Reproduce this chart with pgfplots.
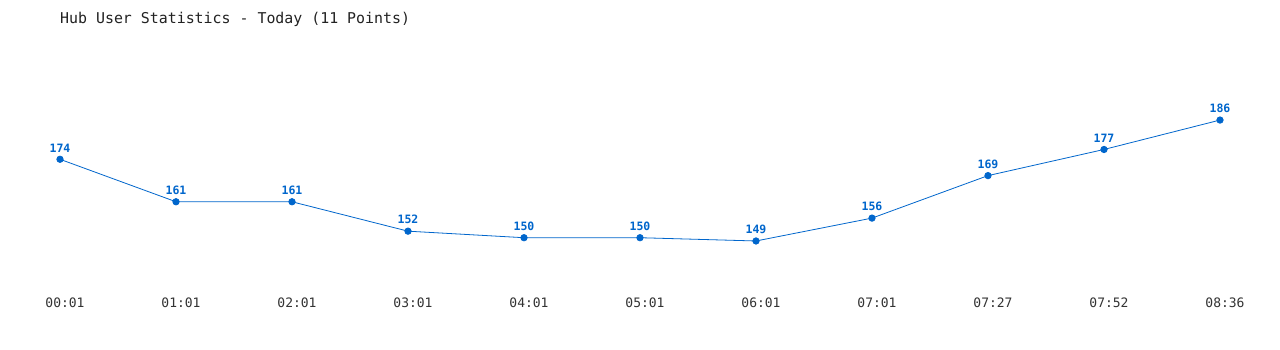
\documentclass[border=0pt]{standalone}
\usepackage{pgfplots}
\pgfplotsset{compat=1.18}
\usepackage{fontspec}
\setmainfont{DejaVu Sans Mono}
\definecolor{lineblue}{HTML}{0066CC}
\definecolor{titlecol}{HTML}{222222}
\definecolor{tickcol}{HTML}{333333}
\begin{document}
\begin{tikzpicture}
\fill[white] (0,0) rectangle (1280bp,350bp);
\node[anchor=west, font=\fontsize{14.9bp}{16bp}\selectfont, text=titlecol, inner sep=0pt] at (60bp,330.5bp) {Hub User Statistics - Today (11 Points)};
\begin{axis}[
  at={(60bp,60bp)}, anchor=south west,
  scale only axis, width=1160bp, height=250bp,
  xmin=0, xmax=10, ymin=134, ymax=210.5,
  axis line style={draw=none},
  major tick length=0pt,
  ytick=\empty,
  xtick={0,...,10},
  xticklabels={00:01,01:01,02:01,03:01,04:01,05:01,06:01,07:01,07:27,07:52,08:36},
  xticklabel style={font=\fontsize{13bp}{14bp}\selectfont, text=tickcol, xshift=5bp, yshift=-4bp},
  /pgf/number format/assume math mode=true,
  nodes near coords,
  every node near coord/.append style={font=\bfseries\fontsize{11.5bp}{12bp}\selectfont, text=lineblue, anchor=south, yshift=3.5bp},
  clip=false,
]
\addplot[color=lineblue, line width=0.8bp, mark=*, mark size=3.2bp, mark options={fill=lineblue, draw=lineblue}]
coordinates {(0,174) (1,161) (2,161) (3,152) (4,150) (5,150) (6,149) (7,156) (8,169) (9,177) (10,186)};
\end{axis}
\end{tikzpicture}
\end{document}
